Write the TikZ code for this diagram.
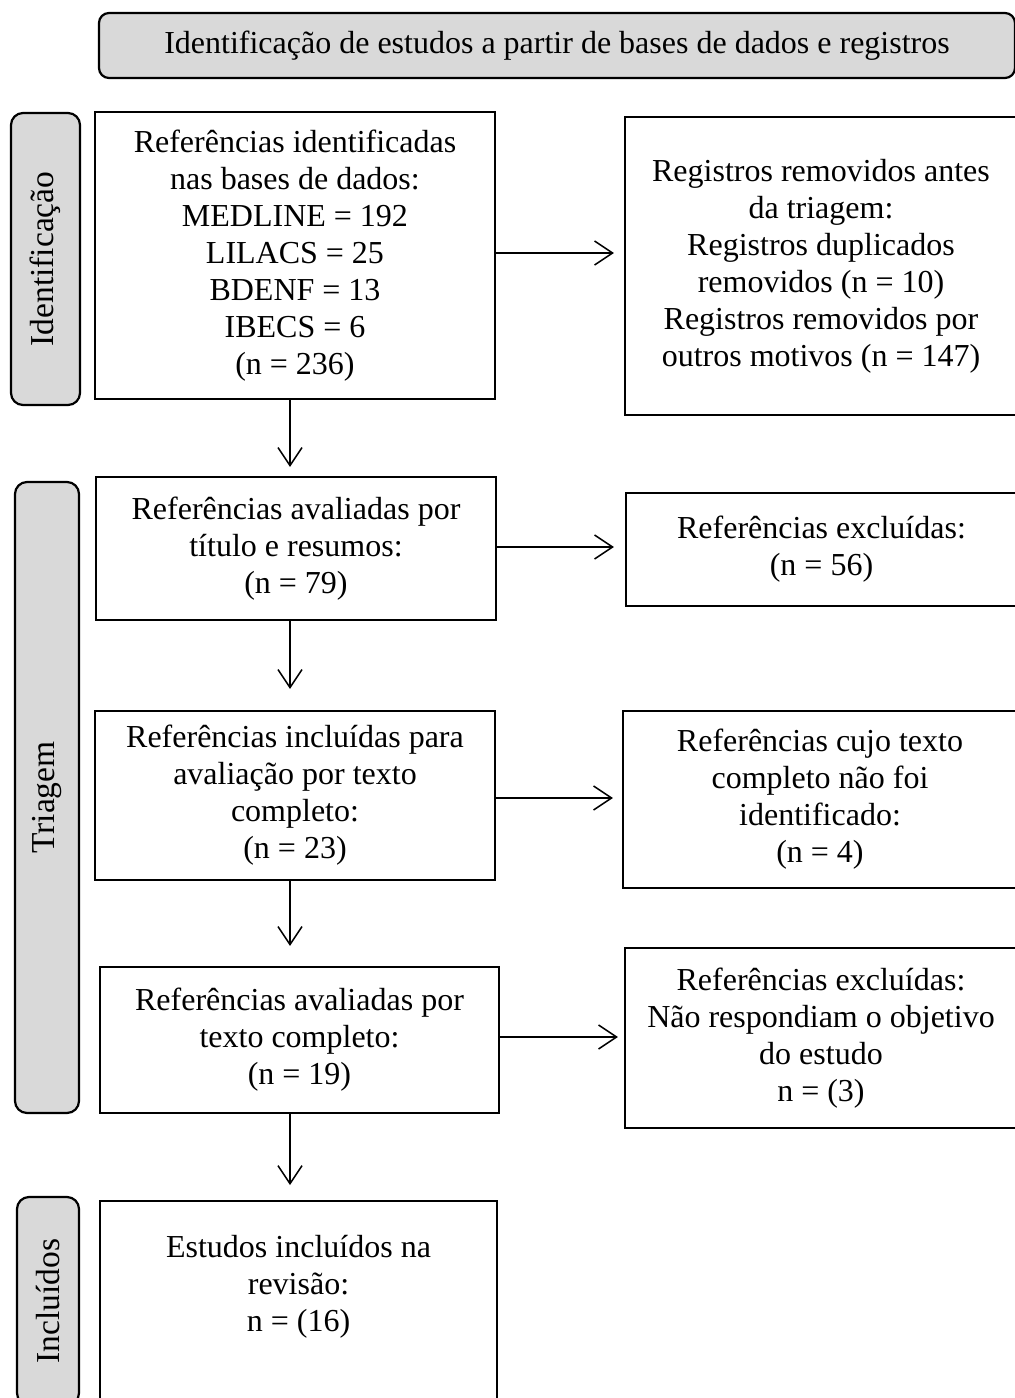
\documentclass[tikz,border=0pt]{standalone}
\usepackage{fontspec}
\setmainfont{Liberation Serif}
\usetikzlibrary{arrows.meta}
\definecolor{sidegray}{HTML}{D9D9D9}
\begin{document}
\begin{tikzpicture}[x=1pt,y=-1pt,
  txt/.style={align=center, inner sep=0pt, font=\fontsize{32}{37}\selectfont},
  box/.style={txt, draw=black, line width=2.2pt, fill=white},
  side/.style={draw=black, line width=2.2pt, fill=sidegray, rounded corners=12pt, inner sep=0pt},
  sidetext/.style={txt, rotate=90, font=\fontsize{33.5}{38}\selectfont},
  arr/.style={line width=1.5pt, -{Straight Barb[length=18pt, width=24pt, line width=1.5pt]}}
]
\useasboundingbox (0,0) rectangle (1015,1398);
\fill[white] (0,0) rectangle (1015,1398);

% title
\node[side, rounded corners=10pt, minimum width=916pt, minimum height=65pt, txt] (title) at (557,45.5)
  {Identificação de estudos a partir de bases de dados e registros};

% side labels
\node[side, minimum width=69pt, minimum height=292pt] (sid) at (45.5,259) {};
\node[sidetext] (sidt) at (sid.center) {Identificação};
\node[side, minimum width=64pt, minimum height=631pt] (stri) at (47,797.5) {};
\node[sidetext] (strit) at (stri.center) {Triagem};
\node[side, minimum width=62pt, minimum height=208pt] (sinc) at (48,1301) {};
\node[sidetext] (sinct) at (sinc.center) {Incluídos};

% main column
\node[box, minimum width=400pt, minimum height=287pt] (b1) at (295,255.5)
  {Referências identificadas\\nas bases de dados:\\MEDLINE = 192\\LILACS = 25\\BDENF = 13\\IBECS = 6\\(n = 236)};
\node[box, minimum width=400pt, minimum height=143pt] (b2) at (296,548.5)
  {Referências avaliadas por\\título e resumos:\\(n = 79)};
\node[box, minimum width=400pt, minimum height=169pt] (b3) at (295,795.5)
  {Referências incluídas para\\avaliação por texto\\completo:\\(n = 23)};
\node[box, minimum width=399pt, minimum height=146pt] (b4) at (299.5,1040)
  {Referências avaliadas por\\texto completo:\\(n = 19)};
\node[box, minimum width=397pt, minimum height=215pt, anchor=north] (b5) at (298.5,1200) {};
\node[txt] (b5t) at (298.5,1287) {Estudos incluídos na\\revisão:\\n = (16)};

% right column
\node[box, minimum width=392pt, minimum height=298pt] (r1) at (821,266)
  {Registros removidos antes\\da triagem:\\Registros duplicados\\removidos (n = 10)\\Registros removidos por\\outros motivos (n = 147)};
\node[box, minimum width=391pt, minimum height=113pt] (r2) at (821.5,549.5)
  {Referências excluídas:\\(n = 56)};
\node[box, minimum width=394pt, minimum height=177pt] (r3) at (820,799.5)
  {Referências cujo texto\\completo não foi\\identificado:\\(n = 4)};
\node[box, minimum width=392pt, minimum height=180pt] (r4) at (821,1038)
  {Referências excluídas:\\Não respondiam o objetivo\\do estudo\\n = (3)};

% guide coordinates
\coordinate (ax) at (290,0);
\coordinate (h1) at (0,253);
\coordinate (h2) at (0,547);
\coordinate (h3) at (0,798);
\coordinate (h4) at (0,1037);

% vertical arrows
\draw[arr, shorten >=9pt] (b1.south -| ax) -- (b2.north -| ax);
\draw[arr, shorten >=21pt] (b2.south -| ax) -- (b3.north -| ax);
\draw[arr, shorten >=20pt] (b3.south -| ax) -- (b4.north -| ax);
\draw[arr, shorten >=15pt] (b4.south -| ax) -- (b5.north -| ax);

% horizontal arrows
\draw[arr, shorten >=10pt] (b1.east |- h1) -- (r1.west |- h1);
\draw[arr, shorten >=11pt] (b2.east |- h2) -- (r2.west |- h2);
\draw[arr, shorten >=9pt] (b3.east |- h3) -- (r3.west |- h3);
\draw[arr, shorten >=6pt] (b4.east |- h4) -- (r4.west |- h4);
\end{tikzpicture}
\end{document}
